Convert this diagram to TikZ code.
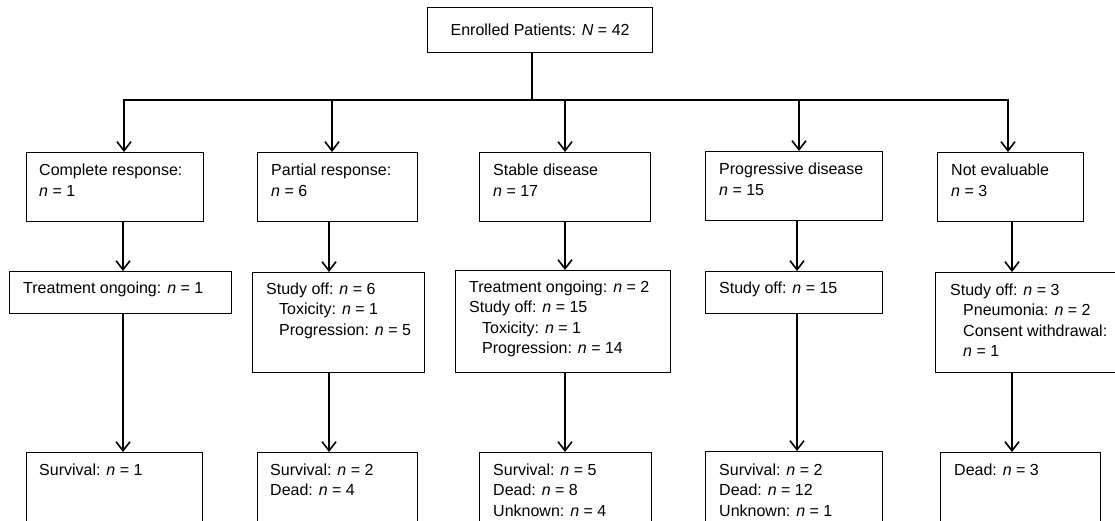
\documentclass[tikz,border=0pt]{standalone}
\usepackage{fontspec}
\setmainfont{Liberation Sans}
\usetikzlibrary{arrows.meta}
\newcommand\fs{\fontsize{16}{20.5}\selectfont}
\newcommand\nn{\textit{n}}
\newcommand\ind{\hspace*{13pt}}
\begin{document}
\begin{tikzpicture}[x=1pt,y=-1pt,
  box/.style={draw, line width=1.2pt, inner sep=0pt, anchor=north west},
  txt/.style={anchor=base west, inner sep=0pt, font=\fs},
  ln/.style={line width=1.5pt},
  arr/.style={line width=1.6pt, -{Straight Barb[length=9pt,width=14pt,line width=1.6pt]}}]
\useasboundingbox (0,0) rectangle (1115,521);
\clip (0,0) rectangle (1115,521);
\fill[white] (0,0) rectangle (1115,521);
% top
\node[box, minimum width=225pt, minimum height=45pt, font=\fs] (top) at (427,7) {Enrolled Patients: \textit{N} = 42};
% row 1
\node[box, minimum width=177pt, minimum height=69pt] (r1a) at (26,152) {};
\node[box, minimum width=160pt, minimum height=69pt] (r1b) at (257,152) {};
\node[box, minimum width=171pt, minimum height=69pt] (r1c) at (479,152) {};
\node[box, minimum width=177pt, minimum height=69pt] (r1d) at (705,151) {};
\node[box, minimum width=146pt, minimum height=69pt] (r1e) at (937,152) {};
% row 2
\node[box, minimum width=222pt, minimum height=42pt] (r2a) at (9,271) {};
\node[box, minimum width=172pt, minimum height=100pt] (r2b) at (252,272) {};
\node[box, minimum width=215pt, minimum height=102pt] (r2c) at (455,270) {};
\node[box, minimum width=177pt, minimum height=42pt] (r2d) at (705,271) {};
\node[box, minimum width=200pt, minimum height=100pt] (r2e) at (935,272) {};
% row 3
\node[box, minimum width=176pt, minimum height=90pt] (r3a) at (26,452) {};
\node[box, minimum width=160pt, minimum height=90pt] (r3b) at (257,452) {};
\node[box, minimum width=172pt, minimum height=90pt] (r3c) at (479,452) {};
\node[box, minimum width=177pt, minimum height=90pt] (r3d) at (705,451) {};
\node[box, minimum width=160pt, minimum height=90pt] (r3e) at (940,452) {};
% texts row 1
\node[txt] (t1a) at (39,176) {\begin{tabular}[t]{@{}l@{}}Complete response:\\ \nn{} = 1\end{tabular}};
\node[txt] (t1b) at (271,176) {\begin{tabular}[t]{@{}l@{}}Partial response:\\ \nn{} = 6\end{tabular}};
\node[txt] (t1c) at (493,176) {\begin{tabular}[t]{@{}l@{}}Stable disease\\ \nn{} = 17\end{tabular}};
\node[txt] (t1d) at (719,175) {\begin{tabular}[t]{@{}l@{}}Progressive disease\\ \nn{} = 15\end{tabular}};
\node[txt] (t1e) at (951,176) {\begin{tabular}[t]{@{}l@{}}Not evaluable\\ \nn{} = 3\end{tabular}};
% texts row 2
\node[txt] (t2a) at (23,293) {Treatment ongoing: \nn{} = 1};
\node[txt] (t2b) at (266,294) {\begin{tabular}[t]{@{}l@{}}Study off: \nn{} = 6\\ \ind Toxicity: \nn{} = 1\\ \ind Progression: \nn{} = 5\end{tabular}};
\node[txt] (t2c) at (469,292) {\begin{tabular}[t]{@{}l@{}}Treatment ongoing: \nn{} = 2\\ Study off: \nn{} = 15\\ \ind Toxicity: \nn{} = 1\\ \ind Progression: \nn{} = 14\end{tabular}};
\node[txt] (t2d) at (719,293) {Study off: \nn{} = 15};
\node[txt] (t2e) at (950,295) {\begin{tabular}[t]{@{}l@{}}Study off: \nn{} = 3\\ \ind Pneumonia: \nn{} = 2\\ \ind Consent withdrawal:\\ \ind \nn{} = 1\end{tabular}};
% texts row 3
\node[txt] (t3a) at (39,475) {Survival: \nn{} = 1};
\node[txt] (t3b) at (270,475) {\begin{tabular}[t]{@{}l@{}}Survival: \nn{} = 2\\ Dead: \nn{} = 4\end{tabular}};
\node[txt] (t3c) at (493,475) {\begin{tabular}[t]{@{}l@{}}Survival: \nn{} = 5\\ Dead: \nn{} = 8\\ Unknown: \nn{} = 4\end{tabular}};
\node[txt] (t3d) at (719,475) {\begin{tabular}[t]{@{}l@{}}Survival: \nn{} = 2\\ Dead: \nn{} = 12\\ Unknown: \nn{} = 1\end{tabular}};
\node[txt] (t3e) at (954,475) {Dead: \nn{} = 3};
% connector coordinates
\coordinate (hub) at (532,100);
\coordinate (k1) at (124,100);
\coordinate (k2) at (332,100);
\coordinate (k3) at (565,100);
\coordinate (k4) at (799,100);
\coordinate (k5) at (1008,100);
\coordinate (c1) at (123,0);
\coordinate (c2) at (329,0);
\coordinate (c3) at (565,0);
\coordinate (c4) at (797,0);
\coordinate (c5) at (1012,0);
% connectors
\draw[ln] (top.south -| hub) -- (hub);
\draw[ln, line join=miter] (r1a.north -| k1) ++(0,-20) -- (k1) -- (k5) -- ++(0,20);
\foreach \k/\b in {k1/r1a,k2/r1b,k3/r1c,k4/r1d,k5/r1e}
  \draw[arr] (\k) -- (\b.north -| \k);
\foreach \c/\a/\b in {c1/r1a/r2a,c2/r1b/r2b,c3/r1c/r2c,c4/r1d/r2d,c5/r1e/r2e}
  \draw[arr] (\a.south -| \c) -- (\b.north -| \c);
\foreach \c/\a/\b in {c1/r2a/r3a,c2/r2b/r3b,c3/r2c/r3c,c4/r2d/r3d,c5/r2e/r3e}
  \draw[arr] (\a.south -| \c) -- (\b.north -| \c);
\end{tikzpicture}
\end{document}
